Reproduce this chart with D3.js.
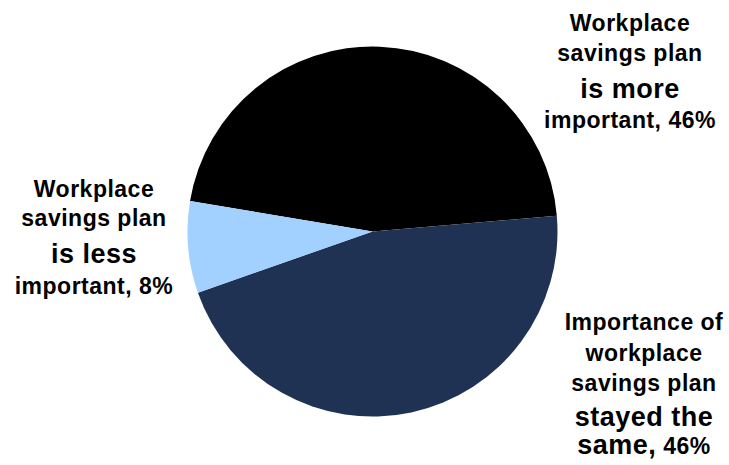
<!DOCTYPE html>
<html>
<head>
<meta charset="utf-8">
<script src="https://cdn.jsdelivr.net/npm/d3@7"></script>
<style>
  html, body { margin: 0; padding: 0; background: #ffffff; }
  svg { display: block; }
  text { font-family: "Liberation Sans", Arial, sans-serif; font-weight: bold; fill: #000; }
</style>
</head>
<body>
<svg id="chart" width="729" height="465"></svg>
<script>
// Survey answers: how the importance of the workplace savings plan changed
const categories = [
  "Workplace savings plan is more important",
  "Importance of workplace savings plan stayed the same",
  "Workplace savings plan is less important"
];
const values = [46, 46, 8];
const colors = ["#000000", "#1F3253", "#A3D1FF"];

// Label wording, one entry per line; the percentage is appended to the last line
const labelLines = [
  ["Workplace", "savings plan", "is more", "important,"],
  ["Importance of", "workplace", "savings plan", "stayed the", "same,"],
  ["Workplace", "savings plan", "is less", "important,"]
];

const svg = d3.select("#chart");
const cx = 372.5, cy = 231.5, radius = 185;

const pie = d3.pie()
  .sort(null)
  .value(d => d)
  .startAngle(-80.5 * Math.PI / 180)
  .endAngle((360 - 80.5) * Math.PI / 180);

const arc = d3.arc().innerRadius(0).outerRadius(radius);

const g = svg.append("g").attr("transform", `translate(${cx},${cy})`);
g.selectAll("path")
  .data(pie(values))
  .join("path")
  .attr("d", arc)
  .attr("fill", (d, i) => colors[i]);

// Text blocks: centre x and line baselines for each category label
const labelLayout = [
  { x: 630, baselines: [31, 61, 98, 128] },
  { x: 644, baselines: [330, 361, 391, 426, 454] },
  { x: 94, baselines: [197, 226, 263, 294] }
];
const emphasized = new Set(["is more", "is less", "stayed the", "same,"]);
const smallSize = 23, largeSize = 27;

labelLines.forEach((lines, i) => {
  const layout = labelLayout[i];
  const block = svg.append("g").attr("class", "label");
  lines.forEach((line, j) => {
    const t = block.append("text")
      .attr("x", layout.x)
      .attr("y", layout.baselines[j])
      .attr("text-anchor", "middle")
      .style("letter-spacing", "0.5px");
    t.append("tspan")
      .style("font-size", (emphasized.has(line) ? largeSize : smallSize) + "px")
      .text(line);
    if (j === lines.length - 1) {
      t.append("tspan")
        .style("font-size", smallSize + "px")
        .text(" " + d3.format("d")(values[i]) + "%");
    }
  });
});
</script>
</body>
</html>
